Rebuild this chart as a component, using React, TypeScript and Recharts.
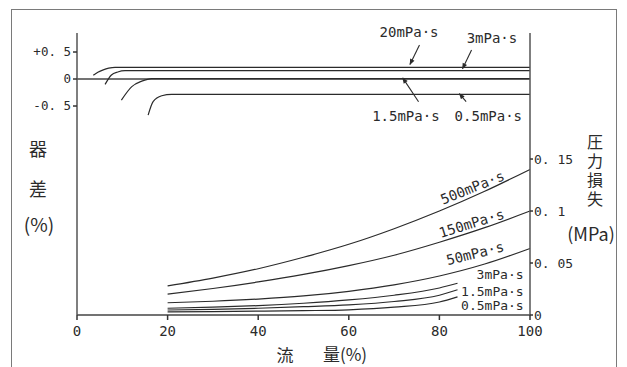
import React from 'react';
import { ComposedChart, Line, XAxis, YAxis, ReferenceLine, ReferenceDot } from 'recharts';

// ---- axes ----
const flowTicks = [0, 20, 40, 60, 80, 100];
const errorTicks = [0.5, 0, -0.5];
const pressureTicks = [0, 0.05, 0.1, 0.15];
const errorDomain = [-4.37, 0.852];
const pressureDomain = [0, 0.2712];

// ---- instrument error (%) vs flow (%) ----
const err20Flow = [3.6, 4.6, 5.8, 7.0, 8.4, 100];
const err20Val = [0.07, 0.125, 0.17, 0.2, 0.215, 0.215];
const err3Flow = [6.2, 7.6, 9.0, 10.6, 100];
const err3Val = [-0.1, 0.074, 0.13, 0.154, 0.154];
const err15Flow = [9.8, 12.1, 14.3, 16.5, 100];
const err15Val = [-0.39, -0.14, -0.04, 0.008, 0.008];
const err05Flow = [15.7, 16.8, 18.7, 20.9, 100];
const err05Val = [-0.67, -0.42, -0.31, -0.283, -0.283];

// ---- pressure loss (MPa) vs flow (%) ----
const pFlowLong = [20, 30, 40, 50, 60, 70, 80, 90, 100];
const p500 = [0.028, 0.0355, 0.0445, 0.0555, 0.068, 0.083, 0.1, 0.119, 0.14];
const p150 = [0.02, 0.0255, 0.0318, 0.039, 0.0475, 0.0575, 0.07, 0.084, 0.1];
const p50 = [0.0118, 0.0132, 0.0153, 0.0183, 0.0228, 0.029, 0.0375, 0.049, 0.064];
const pFlowShort = [20, 30, 40, 50, 60, 70, 80, 84];
const p3 = [0.0065, 0.0075, 0.009, 0.0113, 0.0145, 0.019, 0.026, 0.0305];
const p15 = [0.0048, 0.0055, 0.0065, 0.008, 0.0098, 0.013, 0.019, 0.0243];
const p05 = [0.003, 0.0033, 0.0037, 0.0042, 0.005, 0.0075, 0.0125, 0.0175];

// ---- annotations (data coordinates) ----
const errLabelText = ['20mPa·s', '3mPa·s', '1.5mPa·s', '0.5mPa·s'];
const errLabelFlow = [73.3, 91.6, 72.6, 90.8];
const errLabelVal = [0.87, 0.76, -0.685, -0.685];
const errArrowFrom = [[75.6, 0.63], [87.1, 0.537], [75.4, -0.42], [85.9, -0.42]];
const errArrowTo = [[73.5, 0.27], [85.1, 0.19], [71.9, 0.02], [84.4, -0.27]];

const pLabelText = ['500mPa·s', '150mPa·s', '50mPa·s', '3mPa·s', '1.5mPa·s', '0.5mPa·s'];
const pLabelFlow = [87.3, 87.1, 87.9, 93.4, 91.7, 91.7];
const pLabelVal = [0.1226, 0.0882, 0.0593, 0.0388, 0.0229, 0.009];
const pLabelAngle = [-22, -17, -14, 0, 0, 0];
const pLabelSize = [14, 14, 14, 13, 13, 13];

const pts = (xs: number[], vs: number[]) => xs.map((x, i) => ({ x, v: vs[i] }));

const errorSeries = [
  pts(err20Flow, err20Val),
  pts(err3Flow, err3Val),
  pts(err15Flow, err15Val),
  pts(err05Flow, err05Val),
];
const pressureSeries = [
  pts(pFlowLong, p500),
  pts(pFlowLong, p150),
  pts(pFlowLong, p50),
  pts(pFlowShort, p3),
  pts(pFlowShort, p15),
  pts(pFlowShort, p05),
];

const INK = '#2b2b2b';
const MONO = '"DejaVu Sans Mono", "Liberation Mono", monospace';
const CJK = '"Noto Sans CJK JP", "Noto Sans CJK SC", sans-serif';

const fmtErr = (v: number) => {
  const s = String(Math.abs(v)).replace('.', '. ');
  return v > 0 ? '+' + s : v < 0 ? '-' + s : s;
};
const fmtP = (v: number) => (v === 0 ? '0' : String(v).replace('.', '. '));

export default function App() {
  return (
    <div style={{ position: 'absolute', left: 0, top: 0, width: 627, height: 367, background: '#fff', overflow: 'hidden' }}>
      <div
        style={{
          position: 'absolute',
          left: 11,
          top: 9,
          width: 606,
          height: 420,
          border: '1.5px solid #7a7a7a',
          boxSizing: 'border-box',
        }}
      />
      <div style={{ position: 'absolute', left: 0, top: 0 }}>
        <ComposedChart width={627} height={367} margin={{ top: 33, right: 37, bottom: 22, left: 17 }}>
          <defs>
            <marker id="arrowHead" viewBox="0 0 10 10" refX="9" refY="5" markerWidth="8" markerHeight="6" orient="auto" markerUnits="userSpaceOnUse">
              <path d="M0,1 L10,5 L0,9 z" fill={INK} />
            </marker>
          </defs>
          <XAxis
            type="number"
            dataKey="x"
            domain={[0, 100]}
            ticks={flowTicks}
            height={30}
            tickSize={5}
            tickMargin={6}
            axisLine={{ stroke: '#444', strokeWidth: 1.5 }}
            tickLine={{ stroke: '#333', strokeWidth: 1.5 }}
            tick={{ fill: INK, fontSize: 14, fontFamily: MONO }}
          />
          <YAxis
            yAxisId="err"
            type="number"
            domain={errorDomain}
            ticks={errorTicks}
            allowDataOverflow
            width={60}
            tickSize={4}
            tickMargin={2}
            tickFormatter={fmtErr}
            axisLine={{ stroke: '#555', strokeWidth: 1.5 }}
            tickLine={{ stroke: '#333', strokeWidth: 1.5 }}
            tick={{ fill: INK, fontSize: 12.5, fontFamily: MONO }}
          />
          <YAxis
            yAxisId="p"
            orientation="right"
            type="number"
            domain={pressureDomain}
            ticks={pressureTicks}
            allowDataOverflow
            width={60}
            tickSize={3}
            tickMargin={1}
            tickFormatter={fmtP}
            axisLine={{ stroke: '#555', strokeWidth: 1.5 }}
            tickLine={{ stroke: '#333', strokeWidth: 1.5 }}
            tick={{ fill: INK, fontSize: 13, fontFamily: MONO }}
          />
          <ReferenceLine yAxisId="err" y={0} stroke="#444" strokeWidth={1.3} />
          {errorSeries.map((d, i) => (
            <Line
              key={'e' + i}
              yAxisId="err"
              data={d}
              dataKey="v"
              type="monotone"
              dot={false}
              stroke={INK}
              strokeWidth={1.2}
              isAnimationActive={false}
            />
          ))}
          {errArrowFrom.map((f, i) => (
            <Line
              key={'a' + i}
              yAxisId="err"
              data={[
                { x: f[0], v: f[1] },
                { x: errArrowTo[i][0], v: errArrowTo[i][1] },
              ]}
              dataKey="v"
              type="linear"
              dot={false}
              stroke={INK}
              strokeWidth={1.1}
              markerEnd="url(#arrowHead)"
              isAnimationActive={false}
            />
          ))}
          {pressureSeries.map((d, i) => (
            <Line
              key={'p' + i}
              yAxisId="p"
              data={d}
              dataKey="v"
              type="monotone"
              dot={false}
              stroke={INK}
              strokeWidth={1.2}
              isAnimationActive={false}
            />
          ))}
          {errLabelText.map((t, i) => (
            <ReferenceDot
              key={'el' + i}
              yAxisId="err"
              x={errLabelFlow[i]}
              y={errLabelVal[i]}
              r={0}
              fill="none"
              stroke="none"
              ifOverflow="visible"
              label={{ value: t, position: 'center', fill: INK, fontSize: 14, fontFamily: MONO }}
            />
          ))}
          {pLabelText.map((t, i) => (
            <ReferenceDot
              key={'pl' + i}
              yAxisId="p"
              x={pLabelFlow[i]}
              y={pLabelVal[i]}
              r={0}
              fill="none"
              stroke="none"
              ifOverflow="visible"
              label={{ value: t, position: 'center', angle: pLabelAngle[i], fill: INK, fontSize: pLabelSize[i], fontFamily: MONO }}
            />
          ))}
          <g fill={INK} fontFamily={CJK} textAnchor="middle" dominantBaseline="central">
            <text x={38} y={148} fontSize={18}>器</text>
            <text x={38} y={188} fontSize={18}>差</text>
            <text x={39} y={223} fontSize={19}>(%)</text>
            <text x={591} y={233} fontSize={18}>(MPa)</text>
            <text x={285} y={354} fontSize={17}>流</text>
            <text x={345} y={353} fontSize={17}>量(%)</text>
          </g>
          <text
            x={595}
            y={134}
            fill={INK}
            fontFamily={CJK}
            fontSize={16}
            letterSpacing={3}
            style={{ writingMode: 'vertical-rl' }}
          >
            圧力損失
          </text>
        </ComposedChart>
      </div>
    </div>
  );
}
